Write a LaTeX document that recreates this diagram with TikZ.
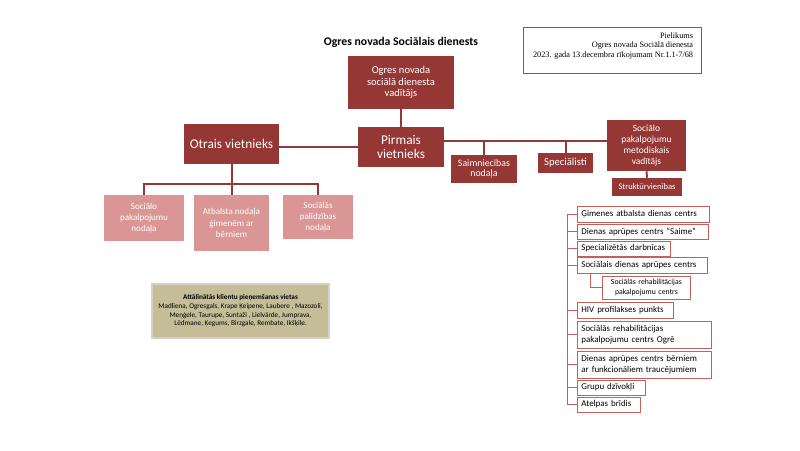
\documentclass[tikz,border=0pt]{standalone}
\usepackage{fontspec}
\setmainfont{Carlito}
\newfontfamily\docserif{Liberation Serif}
\usetikzlibrary{positioning, calc}
\definecolor{ogred}{RGB}{149,55,53}
\definecolor{ogpink}{RGB}{217,150,148}
\definecolor{ogtan}{RGB}{196,189,151}
\definecolor{ogtanline}{RGB}{214,210,192}
\definecolor{oglist}{RGB}{196,96,92}
\newcommand{\fs}[2]{\fontsize{#1}{#2}\selectfont}
\tikzset{
  redbox/.style={rectangle, fill=ogred, text=white, align=center, inner sep=1pt},
  pinkbox/.style={rectangle, fill=ogpink, text=white, align=center, inner sep=1pt},
  listbox/.style={rectangle, draw=oglist, fill=white, anchor=west, align=left,
    text width=#1, inner xsep=3pt, inner ysep=0pt, line width=0.6pt,
    font=\fs{6.7}{8.2}},
  redline/.style={draw=ogred, line width=1.5pt},
  listline/.style={draw=oglist, line width=0.6pt}
}

\begin{document}
\begin{tikzpicture}[x=0.75pt, y=-0.75pt]
  \useasboundingbox (0,0) rectangle (800,450);

  % Title and note
  \node (title) at (401,42) {\fs{8.8}{10}\bfseries Ogres novada Sociālais dienests};
  \node[draw=black!60, line width=0.5pt, minimum width=133.5pt, minimum height=34.5pt,
    inner sep=0pt] (note) at (612,50) {};
  \node[anchor=north east, align=right, inner sep=0pt, font=\docserif\fs{6.2}{6.9}]
    (notetxt) at ($(note.north east)+(-8,6)$)
    {Pielikums\\Ogres novada Sociālā dienesta\\2023. gada 13.decembra rīkojumam Nr.1.1-7/68};

  % Head
  \node[redbox, minimum width=79.5pt, minimum height=39.75pt, font=\fs{7.9}{8.6}]
    (vad) at (401,82.5) {Ogres novada\\sociālā dienesta\\vadītājs};
  \node[redbox, minimum width=64.5pt, minimum height=30pt, font=\fs{10}{11}]
    (pirmais) at (401,147) {Pirmais\\vietnieks};
  \node[redbox, minimum width=71.25pt, minimum height=30pt, font=\fs{10}{11}]
    (otrais) at (231.5,144) {Otrais vietnieks};
  \draw[redline] (vad.south) -- (pirmais.north);
  \draw[redline] (otrais.east |- pirmais.west) -- (pirmais.west);

  % Right branch of the first deputy
  \node[redbox, minimum width=49.5pt, minimum height=21pt, font=\fs{7.4}{8.2}]
    (saimn) at (484,169) {Saimniecības\\nodaļa};
  \node[redbox, minimum width=41.25pt, minimum height=15pt, font=\fs{8}{9}]
    (spec) at (565.5,163) {Speciālisti};
  \node[redbox, minimum width=59.25pt, minimum height=38.25pt, font=\fs{7.1}{8.2}]
    (metod) at (646.5,145.5) {Sociālo\\pakalpojumu\\metodiskais\\vadītājs};
  \node[redbox, minimum width=52.5pt, minimum height=13.5pt, font=\fs{6.4}{7}]
    (strukt) at (647,187) {Struktūrvienības};
  \coordinate (rbus) at (450,141);
  \draw[redline] (pirmais.east |- rbus) -- (metod.west |- rbus);
  \draw[redline] (saimn.north |- rbus) -- (saimn.north);
  \draw[redline] (spec.north |- rbus) -- (spec.north);
  \draw[redline] (metod.south) -- (strukt.north);

  % Second deputy departments
  \node[pinkbox, minimum width=60pt, minimum height=34.5pt, font=\fs{6.8}{8.4}]
    (spn) at (144,218) {Sociālo\\pakalpojumu\\nodaļa};
  \node[pinkbox, minimum width=56.25pt, minimum height=42pt, font=\fs{6.8}{8.4}]
    (anb) at (231.5,223) {Atbalsta nodaļa\\ģimenēm ar\\bērniem};
  \node[pinkbox, minimum width=52.5pt, minimum height=33pt, font=\fs{6.8}{8.4}]
    (spp) at (318,217) {Sociālās\\palīdzības\\nodaļa};
  \coordinate (lbus) at (231.5,184);
  \draw[redline] (otrais.south) -- (anb.north);
  \draw[redline] (spn.north) |- (lbus) -| (spp.north);

  % Remote reception points
  \node[rectangle, fill=ogtan, draw=ogtanline, line width=1.5pt, minimum width=132.75pt,
    minimum height=40.5pt, align=center, inner sep=0pt, font=\fs{5.4}{6.5}]
    (remote) at (240.5,311)
    {\textbf{Attālinātās klientu pieņemšanas vietas}\\
     Madliena, Ogresgals, Krape Ķeipene, Laubere , Mazozoli,\\
     Meņģele, Taurupe, Suntaži , Lielvārde, Jumprava,\\
     Lēdmane, Ķegums, Birzgale, Rembate, Ikšķile.};

  % Structural units list
  \node[listbox=93pt, minimum height=12pt] (gimenes) at (577,214) {Ģimenes atbalsta dienas centrs};
  \node[listbox=92.25pt, minimum height=11.25pt] (saime) at (577,231.5) {Dienas aprūpes centrs “Saime”};
  \node[listbox=63.75pt, minimum height=11.25pt] (darbn) at (577,248.5) {Specializētās darbnīcas};
  \node[listbox=91.5pt, minimum height=12pt] (socdac) at (577,265) {Sociālais dienas aprūpes centrs};
  \node[listbox=60pt, align=center, minimum height=17.25pt, font=\fs{5.8}{7}]
    (srpc) at (602,287.5) {Sociālās rehabilitācijas\\pakalpojumu centrs};
  \node[listbox=66pt, minimum height=12pt] (hiv) at (577,310) {HIV profilakses punkts};
  \node[listbox=94.5pt, minimum height=20.25pt] (ogre) at (577,334.5) {Sociālās rehabilitācijas\\pakalpojumu centrs Ogrē};
  \node[listbox=94.5pt, minimum height=20.25pt] (bernu) at (577,364.5) {Dienas aprūpes centrs bērniem\\ar funkcionāliem traucējumiem};
  \node[listbox=45pt, minimum height=11.25pt] (grupu) at (577,387.5) {Grupu dzīvokļi};
  \node[listbox=41.25pt, minimum height=11.25pt] (atelpas) at (577,404.5) {Atelpas brīdis};
  \coordinate (lstop) at (567,214);
  \draw[listline] (lstop) -- (lstop |- atelpas.west);
  \foreach \n in {gimenes,saime,darbn,socdac,hiv,ogre,bernu,grupu,atelpas}
    \draw[listline] (lstop |- \n.west) -- (\n.west);
  \draw[listline] ($(socdac.south west)+(13,0)$) |- (srpc.west);
\end{tikzpicture}
\end{document}
